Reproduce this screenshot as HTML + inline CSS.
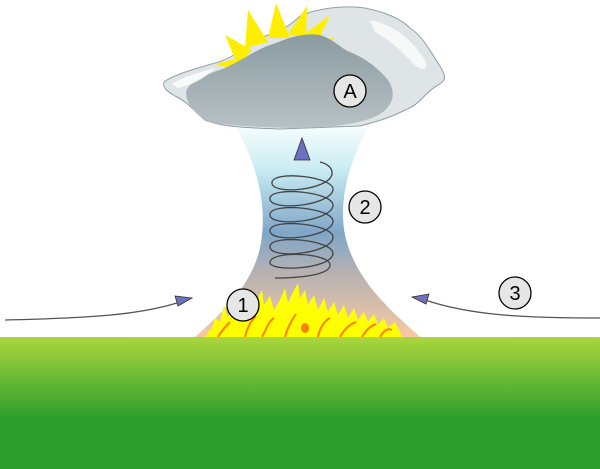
<!DOCTYPE html>
<html><head><meta charset="utf-8"><style>html,body{margin:0;padding:0;background:#fff}svg{display:block}</style></head><body>
<svg width="600" height="469" viewBox="0 0 600 469" xmlns="http://www.w3.org/2000/svg" font-family="Liberation Sans, sans-serif">
<defs>
<linearGradient id="col" x1="0" y1="0" x2="0" y2="1">
<stop offset="0" stop-color="#f4fcfd"/>
<stop offset="0.2" stop-color="#c8ecf2"/>
<stop offset="0.5" stop-color="#7fa6c8"/>
<stop offset="0.7" stop-color="#b8b2b2"/>
<stop offset="1" stop-color="#f7c9a2"/>
</linearGradient>
<linearGradient id="gr" x1="0" y1="0" x2="0" y2="1">
<stop offset="0" stop-color="#abd63c"/>
<stop offset="0.62" stop-color="#2c9e2e"/>
<stop offset="1" stop-color="#2c9e2e"/>
</linearGradient>
<linearGradient id="cl" x1="0" y1="0" x2="0" y2="1">
<stop offset="0" stop-color="#8a9ba0"/>
<stop offset="1" stop-color="#b8c1c5"/>
</linearGradient>
</defs>
<path d="M236,128 L368,128 C350,160 338,200 345,235 C355,280 390,310 420,337 L195,337 C225,310 258,280 262,235 C266,200 255,160 236,128Z" fill="url(#col)"/>
<!-- cloud -->
<path d="M164,82 C172,76 185,72 198,68 C210,64 222,62 232,56 C245,48 255,42 265,36 C280,32 292,24 300,16 C318,8 345,5 365,8 C385,12 400,18 410,28 C425,38 432,55 440,66 C445,75 448,80 438,85 C425,92 420,105 405,110 C390,118 375,122 360,126 L280,129 C255,128 225,128 205,120 C195,112 188,102 175,96 C168,92 162,88 164,82Z" fill="#dfe4e6" stroke="#8fa2a8" stroke-width="1"/>
<!-- sun rays -->
<g fill="#ffee00">
<polygon points="248,10 268,42 245,48"/><polygon points="276,3 290,38 268,38"/><polygon points="307,6 306,38 288,34"/>
<polygon points="330,15 316,45 302,36"/><polygon points="225,35 252,50 238,66"/><polygon points="215,64 248,56 245,72"/>
<polygon points="335,38 315,52 312,40"/>
</g>
<path d="M186,92 C190,80 205,75 220,70 C240,62 255,50 270,45 C285,40 300,32 320,35 C335,40 340,48 350,52 C365,58 378,68 388,80 C398,95 392,110 372,118 C350,126 320,128 290,128 C260,127 230,126 210,122 C195,115 186,104 186,92Z" fill="url(#cl)"/>
<path d="M370,20 C395,25 412,40 425,60 C430,72 420,72 410,60 C400,50 390,40 375,32Z" fill="#fafafa" opacity="0.9"/>
<path d="M172,84 C185,76 200,72 215,68 C205,78 195,84 178,88Z" fill="#fff" opacity="0.8"/>
<!-- fire -->
<path d="M205,337 L212,328 L215,318 L220,322 L224,305 L228,318 L234,300 L238,315 L244,308 L248,296 L252,312 L258,298 L262,290 L264,305 L270,296 L274,310 L280,300 L285,288 L288,303 L293,292 L298,283 L300,298 L305,290 L308,305 L314,295 L318,310 L324,298 L328,312 L334,302 L338,315 L344,305 L348,318 L354,308 L358,320 L364,312 L368,322 L374,314 L378,325 L384,318 L388,328 L395,322 L402,337Z" fill="#ffff00"/>
<g stroke="#ff8000" stroke-width="2" fill="none">
<path d="M218,337 C222,330 226,326 230,322"/><path d="M245,337 C248,325 252,320 256,316"/><path d="M262,337 C266,330 268,322 274,318"/>
<path d="M285,337 C288,326 292,320 296,314"/><path d="M318,337 C320,326 326,320 330,318"/><path d="M340,337 C345,328 350,324 356,322"/>
<path d="M362,337 C366,330 370,326 376,324"/><path d="M380,337 C384,330 388,328 392,330"/>
</g>
<ellipse cx="305" cy="328" rx="4" ry="5" fill="#ff8000"/>
<rect x="0" y="337" width="600" height="132" fill="url(#gr)"/>
<g fill="none" stroke="#444" stroke-width="1.3">
<path d="M275,278 C300,278 330,275 330,265 C330,253 272,250 270,262 C268,272 330,270 333,254 C334,240 272,234 270,246 C268,260 330,254 333,238 C335,224 272,218 270,230 C268,244 330,238 333,222 C335,208 272,202 270,214 C268,228 330,222 333,206 C335,192 272,186 270,198 C268,212 330,206 333,190 C335,177 275,170 272,182 C270,196 330,190 332,174 C333,167 325,163 320,162"/>
</g>
<polygon points="302,138 310,160 294,160" fill="#6f6fbf" stroke="#333" stroke-width="0.8"/>
<path d="M5,320 C90,318 140,315 180,302" fill="none" stroke="#555" stroke-width="1.3"/>
<polygon points="192,298 175,296 178,306" fill="#6f6fbf" stroke="#333" stroke-width="0.8"/>
<path d="M600,318 C520,318 470,315 425,300" fill="none" stroke="#555" stroke-width="1.3"/>
<polygon points="412,297 429,294 426,304" fill="#6f6fbf" stroke="#333" stroke-width="0.8"/>
<g stroke="#000" stroke-width="1.3" fill="#e6e6e6">
<circle cx="350" cy="91" r="16"/><circle cx="365" cy="207" r="16"/><circle cx="243" cy="305" r="16"/><circle cx="515" cy="293" r="16"/>
</g>
<g font-size="20" text-anchor="middle" fill="#000">
<text x="350" y="98">A</text><text x="365" y="214">2</text><text x="243" y="312">1</text><text x="515" y="300">3</text>
</g>
</svg>
</body></html>
